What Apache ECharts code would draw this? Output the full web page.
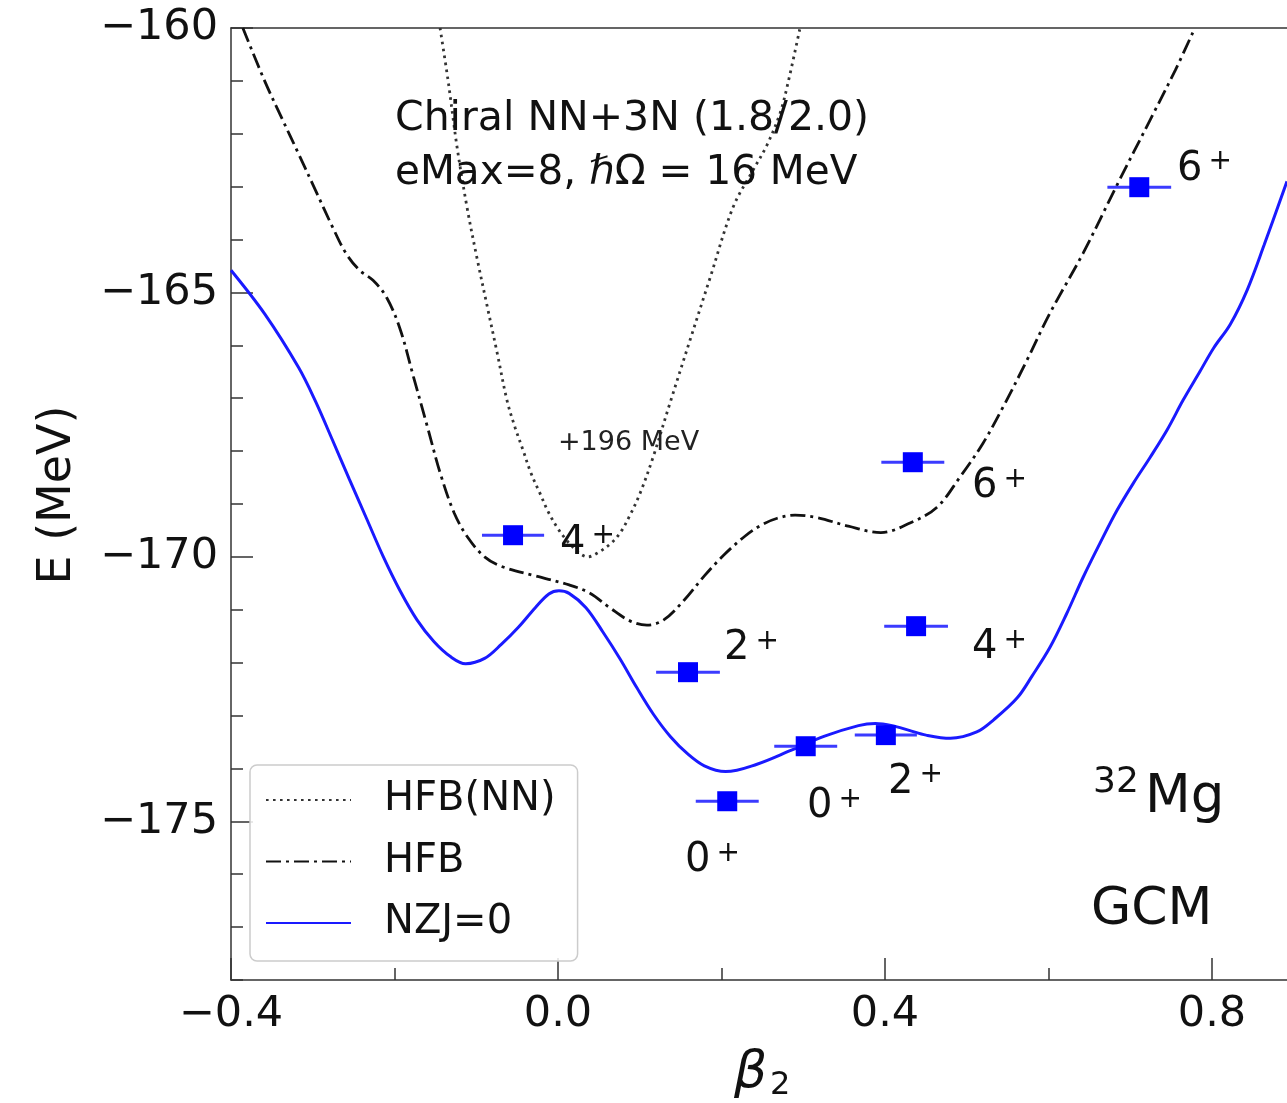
<!DOCTYPE html>
<html><head><meta charset="utf-8">
<script src="https://cdn.jsdelivr.net/npm/echarts@6/dist/echarts.min.js"></script>
<style>html,body{margin:0;padding:0;background:#fff}#c{width:1287px;height:1103px}</style>
</head><body><div id="c"></div>
<script>
// ---- tick values ----
const xTickValues = [-0.4, 0.0, 0.4, 0.8];
const xMinorTicks = [-0.2, 0.2, 0.6];
const yTickValues = [-175, -170, -165, -160];
const yMinorTicks = [-178, -177, -176, -174, -173, -172, -171, -169, -168, -167, -166, -164, -163, -162, -161];

// ---- HFB(NN) (dotted, shifted by +196 MeV) ----
const hfbNN = [
  [-0.1443, -160.00], [-0.1346, -160.98], [-0.1235, -162.25], [-0.1113, -163.39],
  [-0.0991, -164.35], [-0.0869, -165.24], [-0.0746, -166.13], [-0.0624, -167.04],
  [-0.0526, -167.55], [-0.0428, -167.98], [-0.0330, -168.42], [-0.0220, -168.80],
  [-0.0122, -169.14], [-0.0012, -169.44], [0.0086, -169.65], [0.0183, -169.82],
  [0.0269, -169.94], [0.0365, -170.00], [0.0477, -169.93], [0.0636, -169.76],
  [0.0758, -169.55], [0.0881, -169.21], [0.1003, -168.80], [0.1162, -168.12],
  [0.1370, -167.09], [0.1615, -165.90], [0.1859, -164.73], [0.2141, -163.39],
  [0.2385, -162.69], [0.2557, -162.21], [0.2716, -161.61], [0.2813, -161.04],
  [0.2960, -160.00]
];

// ---- HFB (dash-dot) ----
const hfb = [
  [-0.3855, -160.00], [-0.3586, -161.01], [-0.3380, -161.70], [-0.3173, -162.38],
  [-0.2966, -163.07], [-0.2759, -163.76], [-0.2594, -164.26], [-0.2428, -164.58],
  [-0.2263, -164.77], [-0.2098, -165.09], [-0.1932, -165.69], [-0.1767, -166.60],
  [-0.1601, -167.52], [-0.1436, -168.44], [-0.1270, -169.17], [-0.1105, -169.63],
  [-0.0898, -170.00], [-0.0691, -170.18], [-0.0278, -170.36], [0.0136, -170.53],
  [0.0384, -170.68], [0.0632, -170.96], [0.0880, -171.21], [0.1087, -171.29],
  [0.1294, -171.19], [0.1542, -170.82], [0.1790, -170.36], [0.2038, -169.95],
  [0.2286, -169.61], [0.2485, -169.40], [0.2682, -169.27], [0.2900, -169.21],
  [0.3180, -169.26], [0.3551, -169.42], [0.3950, -169.54],
  [0.4306, -169.36], [0.4636, -169.06], [0.4917, -168.49], [0.5199, -167.85],
  [0.5443, -167.17], [0.5730, -166.30], [0.6018, -165.39], [0.6422, -164.26],
  [0.6850, -162.93], [0.7242, -161.74], [0.7550, -160.80], [0.7790, -160.00]
];

// ---- NZJ=0 (solid blue) ----
const nzj0 = [
  [-0.4000, -164.58], [-0.3586, -165.41], [-0.3173, -166.42], [-0.2966, -167.06],
  [-0.2759, -167.79], [-0.2553, -168.53], [-0.2346, -169.26], [-0.2139, -169.99],
  [-0.1932, -170.64], [-0.1725, -171.19], [-0.1519, -171.60], [-0.1312, -171.89],
  [-0.1130, -172.02], [-0.0898, -171.92], [-0.0691, -171.65], [-0.0485, -171.33],
  [-0.0278, -170.96], [-0.0112, -170.70], [0.0012, -170.64], [0.0136, -170.69],
  [0.0342, -170.96], [0.0549, -171.42], [0.0756, -171.92], [0.0963, -172.47],
  [0.1169, -172.98], [0.1376, -173.40], [0.1583, -173.72], [0.1790, -173.95],
  [0.2050, -174.06], [0.2434, -173.92], [0.2848, -173.66],
  [0.3261, -173.39], [0.3675, -173.19], [0.3881, -173.15], [0.4088, -173.19],
  [0.4295, -173.28], [0.4502, -173.37], [0.4800, -173.43],
  [0.5122, -173.31], [0.5329, -173.08], [0.5615, -172.67], [0.5800, -172.25],
  [0.6018, -171.71], [0.6220, -171.08], [0.6422, -170.39], [0.6630, -169.74],
  [0.6838, -169.12], [0.7040, -168.60], [0.7242, -168.12], [0.7450, -167.60],
  [0.7645, -167.04], [0.7850, -166.50], [0.8020, -166.05], [0.8224, -165.60],
  [0.8431, -164.95], [0.8638, -164.10], [0.8917, -162.90]
];

// ---- GCM levels ----
const levelBeta = [-0.055, 0.159, 0.207, 0.303, 0.401, 0.438, 0.434, 0.711];
const levelE    = [-169.59, -172.18, -174.62, -173.58, -173.37, -171.31, -168.21, -163.01];
const levelErr  = [0.038, 0.039, 0.0385, 0.0385, 0.038, 0.039, 0.0385, 0.039];
const levelSpin = ['4', '2', '0', '0', '2', '4', '6', '6'];
// label anchor (left edge / vertical centre of the spin digit), data coords
const labelBeta = [0.0024, 0.2031, 0.1554, 0.3046, 0.4037, 0.5064, 0.5064, 0.7572];
const labelE    = [-169.74, -171.73, -175.74, -174.72, -174.26, -171.71, -168.68, -162.67];

const FONT = 'DejaVu Sans';
const fmtMinus = (v, d) => (v < 0 ? '\u2212' : '') + Math.abs(v).toFixed(d);

const chart = echarts.init(document.getElementById('c'), null, {renderer: 'canvas'});
const axisColor = '#333333';
const option = {
  backgroundColor: '#ffffff',
  animation: false,
  grid: {left: 231, right: 0, top: 28, bottom: 123, containLabel: false, outerBoundsMode: 'none'},
  xAxis: [
    {type: 'value', min: -0.4, max: 0.8917, position: 'bottom',
     axisLine: {show: true, onZero: false, lineStyle: {color: axisColor, width: 1.5}},
     axisTick: {show: true, inside: true, length: 22, customValues: xTickValues, lineStyle: {color: axisColor, width: 1.5}},
     axisLabel: {show: true, customValues: xTickValues, margin: 13, fontSize: 43, fontFamily: FONT, color: '#111',
                 formatter: v => fmtMinus(v, 1)},
     splitLine: {show: false}},
    {type: 'value', min: -0.4, max: 0.8917, position: 'bottom',
     axisLine: {show: false, onZero: false},
     axisTick: {show: true, inside: true, length: 12, customValues: xMinorTicks, lineStyle: {color: axisColor, width: 1.5}},
     axisLabel: {show: false}, splitLine: {show: false}},
    {type: 'value', min: -0.4, max: 0.8917, position: 'top',
     axisLine: {show: true, onZero: false, lineStyle: {color: axisColor, width: 1.5}},
     axisTick: {show: false}, axisLabel: {show: false}, splitLine: {show: false}}
  ],
  yAxis: [
    {type: 'value', min: -178, max: -160, position: 'left',
     axisLine: {show: true, onZero: false, lineStyle: {color: axisColor, width: 1.5}},
     axisTick: {show: true, inside: true, length: 22, customValues: yTickValues, lineStyle: {color: axisColor, width: 1.5}},
     axisLabel: {show: true, customValues: yTickValues, margin: 13, fontSize: 43, fontFamily: FONT, color: '#111',
                 formatter: v => fmtMinus(v, 0)},
     splitLine: {show: false}},
    {type: 'value', min: -178, max: -160, position: 'left',
     axisLine: {show: false, onZero: false},
     axisTick: {show: true, inside: true, length: 12, customValues: yMinorTicks, lineStyle: {color: axisColor, width: 1.5}},
     axisLabel: {show: false}, splitLine: {show: false}}
  ],
  legend: {
    data: ['HFB(NN)', 'HFB', 'NZJ=0'],
    orient: 'vertical', left: 250, top: 765,
    padding: [15, 22, 18, 15],
    itemWidth: 85, itemHeight: 40, itemGap: 21.5,
    itemStyle: {opacity: 0},
    textStyle: {fontSize: 40, fontFamily: FONT, color: '#111', lineHeight: 40, padding: [0, 0, 0, 28]},
    borderColor: '#cccccc', borderWidth: 1.5, borderRadius: 7,
    backgroundColor: 'rgba(255,255,255,0.85)'
  },
  series: [
    {name: 'HFB(NN)', type: 'line', data: hfbNN, symbol: 'none', showSymbol: false, smooth: 0.35,
     lineStyle: {color: '#333333', width: 2.8, type: [2.6, 4.4]}, itemStyle: {color: '#333333'}, z: 3},
    {name: 'HFB', type: 'line', data: hfb, symbol: 'none', showSymbol: false, smooth: 0.35,
     lineStyle: {color: '#111111', width: 2.8, type: [15, 5, 3, 5]}, itemStyle: {color: '#111111'}, z: 3},
    {name: 'NZJ=0', type: 'line', data: nzj0, symbol: 'none', showSymbol: false, smooth: 0.35,
     lineStyle: {color: '#1a1aff', width: 3}, itemStyle: {color: '#1a1aff'}, z: 4},
    {type: 'custom', name: 'err',
     data: levelBeta.map((b, i) => [b, levelE[i], levelErr[i]]),
     encode: {x: 0, y: 1},
     renderItem: function (params, api) {
       const b = api.value(0), e = api.value(1), d = api.value(2);
       const p1 = api.coord([b - d, e]);
       const p2 = api.coord([b + d, e]);
       return {type: 'line', shape: {x1: p1[0], y1: p1[1], x2: p2[0], y2: p2[1]},
               style: {stroke: '#3b3bff', lineWidth: 3}};
     }, z: 5, silent: true},
    {type: 'scatter', name: 'levels',
     data: levelBeta.map((b, i) => [b, levelE[i]]),
     symbol: 'rect', symbolSize: 20, itemStyle: {color: '#0000ff', opacity: 1}, z: 6},
    {type: 'scatter', name: 'spins',
     data: labelBeta.map((b, i) => [b, labelE[i], levelSpin[i]]),
     symbolSize: 0, itemStyle: {color: '#111111', opacity: 1}, z: 7,
     label: {show: true, position: 'right', distance: 0,
       formatter: p => '{d|' + p.value[2] + '}{s|+}',
       rich: {
         d: {fontSize: 40, fontFamily: FONT, color: '#111'},
         s: {fontSize: 28, fontFamily: FONT, color: '#111', padding: [0, 0, 14, 6]}
       }}}
  ],
  graphic: [
    {type: 'text', x: 395, y: 119, z: 10,
     style: {text: 'Chiral NN+3N (1.8/2.0)', fontSize: 41, fontFamily: FONT, fill: '#111', verticalAlign: 'middle', align: 'left'}},
    {type: 'text', x: 395, y: 173, z: 10,
     style: {text: '{n|eMax=8, }{i|\u210F}{n|\u03A9 = 16 MeV}', fontSize: 41, fontFamily: FONT, fill: '#111',
             verticalAlign: 'middle', align: 'left',
             rich: {n: {fontSize: 40.5, fontFamily: FONT, fill: '#111'},
                    i: {fontSize: 40.5, fontFamily: FONT, fontStyle: 'italic', fill: '#111'}}}},
    {type: 'text', x: 558, y: 443, z: 10,
     style: {text: '+196 MeV', fontSize: 27, fontFamily: FONT, fill: '#222', verticalAlign: 'middle', align: 'left'}},
    {type: 'text', x: 1093, y: 783, z: 10,
     style: {text: '32', fontSize: 36, fontFamily: FONT, fill: '#111', verticalAlign: 'middle', align: 'left'}},
    {type: 'text', x: 1145, y: 798, z: 10,
     style: {text: 'Mg', fontSize: 53, fontFamily: FONT, fill: '#111', verticalAlign: 'middle', align: 'left'}},
    {type: 'text', x: 1091, y: 910, z: 10,
     style: {text: 'GCM', fontSize: 52, fontFamily: FONT, fill: '#111', verticalAlign: 'middle', align: 'left'}},
    {type: 'text', x: 734, y: 1073, z: 10,
     style: {text: '\u03B2', fontSize: 52, fontFamily: FONT, fontStyle: 'italic', fill: '#111', verticalAlign: 'middle', align: 'left'}},
    {type: 'text', x: 770, y: 1086, z: 10,
     style: {text: '2', fontSize: 32, fontFamily: FONT, fill: '#111', verticalAlign: 'middle', align: 'left'}},
    {type: 'text', x: 58, y: 495, rotation: Math.PI / 2, z: 10,
     style: {text: 'E (MeV)', fontSize: 46, fontFamily: FONT, fill: '#111', verticalAlign: 'middle', align: 'center'}}
  ]
};
chart.setOption(option);
</script>
</body></html>
